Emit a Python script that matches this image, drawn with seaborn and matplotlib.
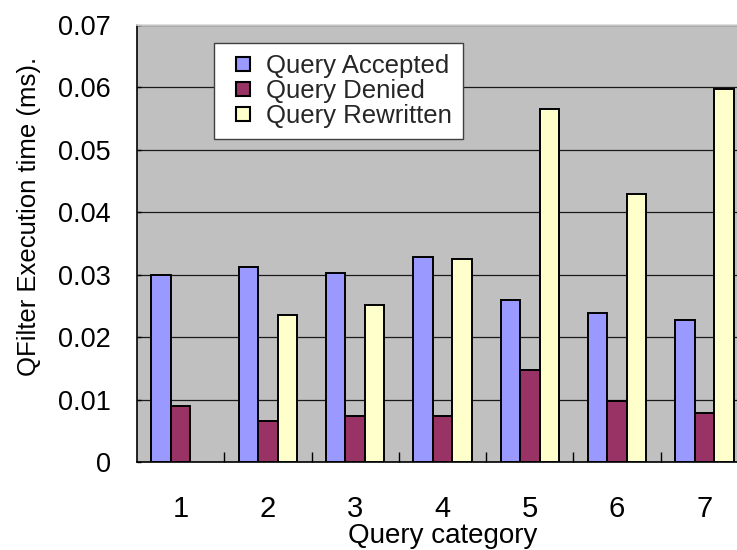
import matplotlib
matplotlib.use('Agg')
import matplotlib.pyplot as plt
from matplotlib.lines import Line2D
import seaborn as sns
import numpy as np
import pandas as pd

categories = ['1', '2', '3', '4', '5', '6', '7']
accepted = [0.0300, 0.0312, 0.0303, 0.0328, 0.0259, 0.0239, 0.0227]
denied = [0.0090, 0.0066, 0.0074, 0.0074, 0.0147, 0.0098, 0.0078]
rewritten = [np.nan, 0.0235, 0.0251, 0.0325, 0.0565, 0.0429, 0.0597]
series_names = ['Query Accepted', 'Query Denied', 'Query Rewritten']
series_colors = ['#9999FF', '#993366', '#FFFFCC']
y_ticks = [0, 0.01, 0.02, 0.03, 0.04, 0.05, 0.06, 0.07]
y_tick_labels = ['0', '0.01', '0.02', '0.03', '0.04', '0.05', '0.06', '0.07']

df = pd.DataFrame({'category': categories,
                   series_names[0]: accepted,
                   series_names[1]: denied,
                   series_names[2]: rewritten})
df = df.melt(id_vars='category', var_name='series', value_name='time')
df = df.dropna()

sns.set_theme(style='ticks')
plt.rcParams['font.family'] = ['Liberation Sans', 'DejaVu Sans']

fig = plt.figure(figsize=(7.37, 5.5), dpi=100)
ax = fig.add_axes([137 / 737, 88 / 550, 611 / 737, 437 / 550])
ax.set_facecolor('#C0C0C0')

sns.barplot(data=df, x='category', y='time', hue='series',
            order=categories, hue_order=series_names,
            palette=series_colors, width=0.67, gap=0,
            edgecolor='black', linewidth=1.4, saturation=1,
            errorbar=None, legend=False, ax=ax, zorder=3)

ax.set_xlim(-0.5, len(categories) - 0.5)
ax.set_ylim(0, 0.07)
ax.set_yticks(y_ticks)
ax.set_yticklabels(y_tick_labels)
ax.set_xticks(np.arange(0.5, len(categories) - 0.5), minor=True)

ax.yaxis.grid(True, color='#1a1a1a', linewidth=0.9, zorder=1)
ax.set_axisbelow(True)

for side in ['left', 'bottom']:
    ax.spines[side].set_color('black')
    ax.spines[side].set_linewidth(1.2)
ax.spines['top'].set_color('#dcdcdc')
ax.spines['right'].set_visible(False)

ax.tick_params(axis='x', which='major', length=0, pad=23.5, labelsize=21, colors='black')
ax.tick_params(axis='x', which='minor', direction='in', length=7, width=1, color='black')
ax.tick_params(axis='y', which='major', direction='in', length=3, width=1,
               pad=19, labelsize=19.5, colors='black')

ax.set_xlabel('Query category', fontsize=20, labelpad=0.5, color='black')
ax.set_ylabel('QFilter Execution time (ms).', fontsize=18.5, color='black')
ax.yaxis.set_label_coords(-0.157, 0.561)

handles = [Line2D([], [], marker='s', linestyle='', markersize=9.4,
                  markerfacecolor=c, markeredgecolor='black', markeredgewidth=1.5,
                  label=n) for c, n in zip(series_colors, series_names)]
leg = ax.legend(handles=handles, loc='upper left', bbox_to_anchor=(0.126, 0.959),
                borderaxespad=0, fontsize=18.5, frameon=True, fancybox=False,
                framealpha=1, edgecolor='#404040', borderpad=0.42,
                labelspacing=0.05, handlelength=1.4, handletextpad=0.2)
leg.get_frame().set_linewidth(1.0)
leg.set_zorder(5)

fig.savefig('out.png', dpi=100)
